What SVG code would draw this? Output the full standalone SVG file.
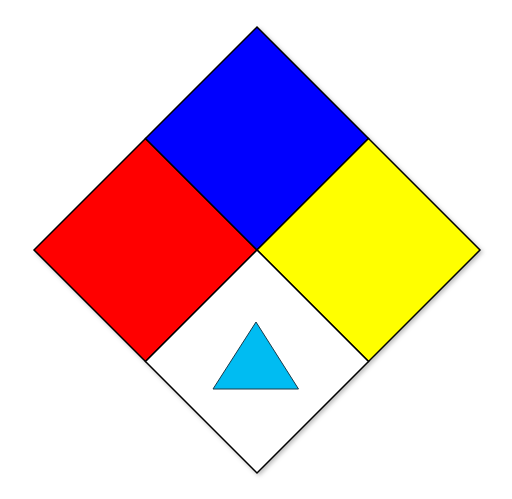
<svg xmlns="http://www.w3.org/2000/svg" width="512" height="499" viewBox="0 0 512 499">
<defs>
<style>
.q{stroke:#000;stroke-width:1.5;stroke-linejoin:miter}
</style>
<filter id="sh" x="-10%" y="-10%" width="120%" height="120%">
<feDropShadow dx="2" dy="2" stdDeviation="2" flood-color="#000" flood-opacity="0.25"/>
</filter>
</defs>
<rect width="512" height="499" fill="#fff"/>
<g filter="url(#sh)">
<g id="health"><polygon class="q" fill="#ff0000" points="34,250 145.5,138.5 257,250 145.5,361.5"/></g>
<g id="flammability"><polygon class="q" fill="#0000ff" points="257,27 368.5,138.5 257,250 145.5,138.5"/></g>
<g id="instability"><polygon class="q" fill="#ffff00" points="368.5,138.5 480,250 368.5,361.5 257,250"/></g>
<g id="special"><polygon class="q" fill="#ffffff" points="257,250 368.5,361.5 257,473 145.5,361.5"/></g>
<g id="triangle"><polygon fill="#00bcf2" stroke="#1a3a4a" stroke-width="1" points="256,322 298.5,389 213,389"/></g>
</g>
</svg>
